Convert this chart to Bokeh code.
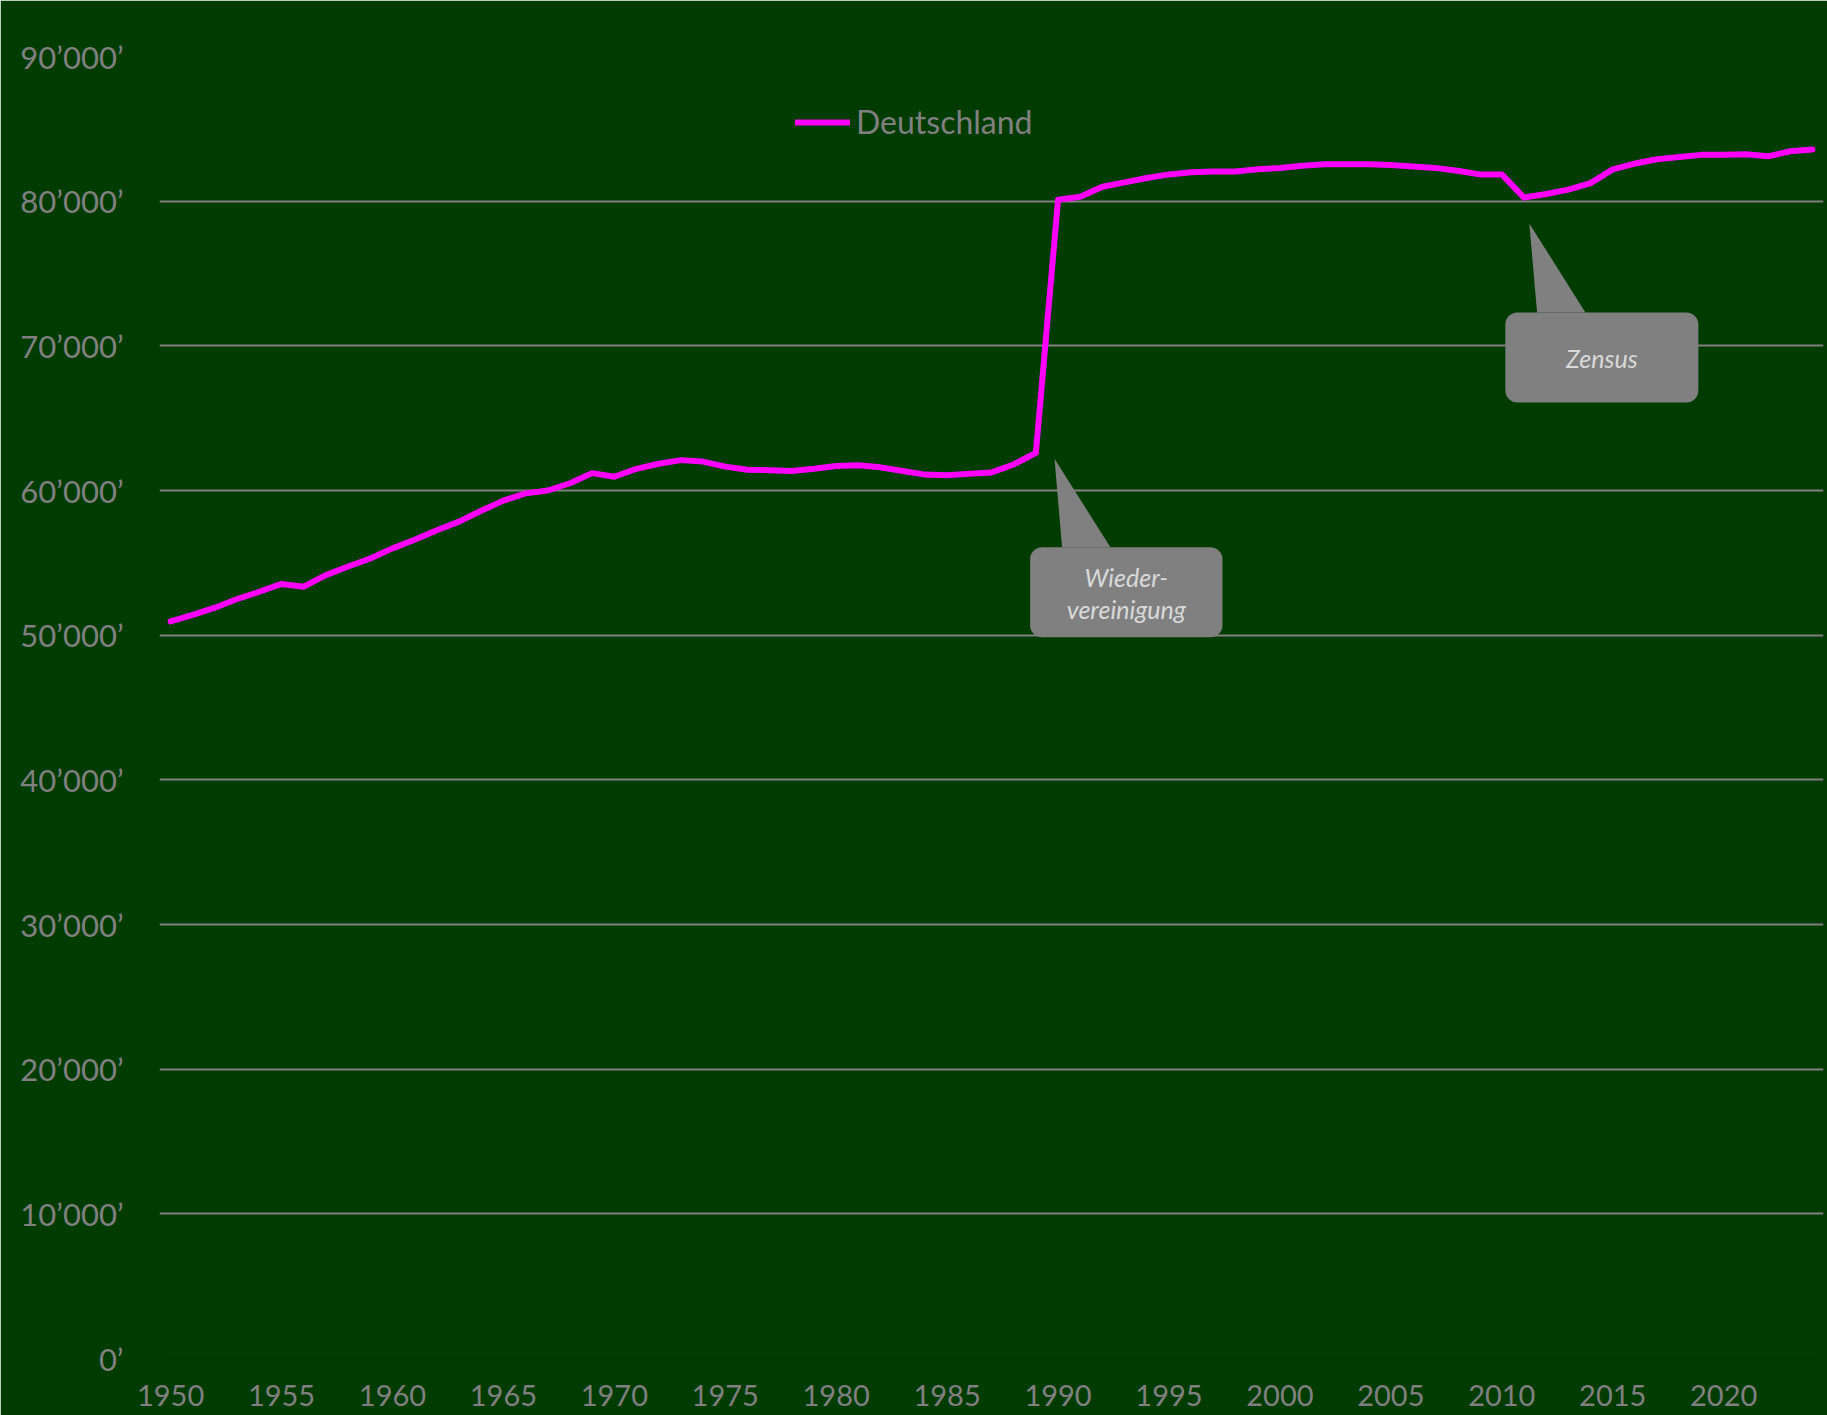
from bokeh.plotting import figure
from bokeh.models import Range1d, FixedTicker, BoxAnnotation, PolyAnnotation, Label
from bokeh.embed import file_html
from bokeh.resources import INLINE

# ---- data (population, thousands) ----
years = list(range(1950, 2025))
population = [
    50950, 51400, 51900, 52500, 53000, 53540, 53350, 54150, 54750, 55300,   # 1950-1959
    56000, 56600, 57250, 57850, 58600, 59300, 59800, 60000, 60500, 61200,   # 1960-1969
    60950, 61500, 61850, 62100, 62000, 61650, 61440, 61400, 61350, 61500,   # 1970-1979
    61700, 61750, 61600, 61350, 61100, 61050, 61150, 61250, 61800, 62600,   # 1980-1989
    80100, 80300, 81000, 81300, 81600, 81850, 82000, 82050, 82050, 82200,   # 1990-1999
    82300, 82450, 82550, 82550, 82550, 82500, 82400, 82300, 82100, 81850,   # 2000-2009
    81850, 80250, 80500, 80800, 81250, 82200, 82600, 82900, 83050, 83200,   # 2010-2019
    83200, 83250, 83100, 83450, 83570,                                       # 2020-2024
]
series_name = "Deutschland"
x_ticks = list(range(1950, 2021, 5))
y_ticks = [0, 10000, 20000, 30000, 40000, 50000, 60000, 70000, 80000, 90000]
y_tick_labels = ["0’", "10’000’", "20’000’", "30’000’", "40’000’",
                 "50’000’", "60’000’", "70’000’", "80’000’", "90’000’"]

# annotations (data coordinates)
ann_wieder = dict(text=["Wieder-", "vereinigung"], tip=(1989.84, 62200),
                  box=(1988.74, 1997.41, 56070, 49850), base=(1990.18, 1992.36),
                  text_y=[54000, 51830])
ann_zensus = dict(text=["Zensus"], tip=(2011.24, 78460),
                  box=(2010.16, 2018.86, 72310, 66090), base=(2011.59, 2013.77),
                  text_y=[69130])

BG = "#003b00"
GRAY = "#808080"
FONT = "Lato"

p = figure(width=1827, height=1415, output_backend="svg", toolbar_location=None,
           x_range=Range1d(1949.5, 2024.5), y_range=Range1d(0, 90000),
           min_border_left=159, min_border_right=4, min_border_top=56, min_border_bottom=57)
p.background_fill_color = BG
p.border_fill_color = BG
p.outline_line_color = BG
p.outline_line_width = 2

p.xgrid.grid_line_color = None
p.ygrid.grid_line_color = GRAY
p.ygrid.grid_line_width = 2

p.xaxis.ticker = FixedTicker(ticks=x_ticks)
p.yaxis.ticker = FixedTicker(ticks=y_ticks)
p.yaxis.major_label_overrides = {t: l for t, l in zip(y_ticks, y_tick_labels)}
for ax in (p.xaxis, p.yaxis):
    ax.axis_line_color = None
    ax.major_tick_line_color = None
    ax.minor_tick_line_color = None
    ax.major_label_text_color = GRAY
    ax.major_label_text_font = FONT
p.yaxis.major_label_text_font_size = "31px"
p.yaxis.major_label_standoff = 30
p.xaxis.major_label_text_font_size = "29px"
p.xaxis.major_label_standoff = 20

line = p.line(years, population, line_color="#ff00ff", line_width=6,
              line_join="round", line_cap="round", legend_label=series_name)

for ann in (ann_wieder, ann_zensus):
    l, r, t, b = ann["box"]
    p.add_layout(PolyAnnotation(xs=[ann["tip"][0], ann["base"][0], ann["base"][1]],
                                ys=[ann["tip"][1], t, t],
                                fill_color=GRAY, fill_alpha=1, line_color=None))
    p.add_layout(BoxAnnotation(left=l, right=r, top=t, bottom=b, fill_color=GRAY,
                               fill_alpha=1, line_color=None, border_radius=12))
    for txt, ty in zip(ann["text"], ann["text_y"]):
        p.add_layout(Label(x=(l + r) / 2, y=ty, text=txt, text_align="center",
                           text_baseline="middle", text_font=FONT, text_font_style="italic",
                           text_font_size="25px", text_color="#d9d9d9"))

lg = p.legend[0]
lg.location = (636, 1217)
lg.glyph_width = 55
lg.glyph_height = 30
lg.label_height = 30
lg.label_standoff = 6
lg.padding = 0
lg.margin = 0
lg.spacing = 0
lg.background_fill_alpha = 0
lg.border_line_alpha = 0
lg.label_text_color = GRAY
lg.label_text_font = FONT
lg.label_text_font_size = "32px"

open("out.html", "w").write(file_html(p, INLINE))
